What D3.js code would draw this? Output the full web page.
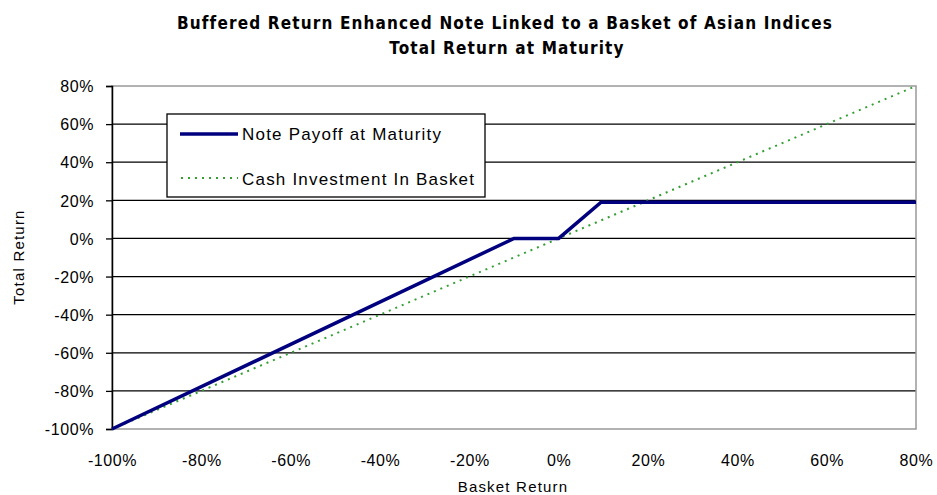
<!DOCTYPE html>
<html lang="en">
<head>
<meta charset="UTF-8">
<title>Buffered Return Enhanced Note</title>
<script src="https://cdn.jsdelivr.net/npm/d3@7"></script>
<style>
    body { margin: 0; background: #fff; }
    text { font-family: Arial, "Liberation Sans", sans-serif; }
</style>
</head>
<body>
<svg id="chart" width="937" height="495"></svg>
<script>
// basket return (x) and total return (y), in percent
let noteX = [-100, -10, 0, 9.5, 80];
let noteY = [-100, 0, 0, 19, 19];
let cashX = [-100, 80];
let cashY = [-100, 80];
let xTicks = [-100, -80, -60, -40, -20, 0, 20, 40, 60, 80];
let yTicks = [-100, -80, -60, -40, -20, 0, 20, 40, 60, 80];
let seriesNames = ["Note Payoff at Maturity", "Cash Investment In Basket"];

let svg = d3.select("#chart");
let plotL = 112, plotR = 916, plotT = 86, plotB = 429;

let x = d3.scaleLinear().domain([-100, 80]).range([plotL, plotR]);
let y = d3.scaleLinear().domain([-100, 80]).range([plotB, plotT]);

// title
let titleFont = "'Liberation Sans Narrow', 'DejaVu Sans Condensed', Arial, sans-serif";
svg.append("text").attr("x", 505).attr("y", 29).attr("text-anchor", "middle")
    .style("font-size", "17px").style("font-weight", "bold").style("letter-spacing", "1.15px")
    .style("font-family", titleFont)
    .text("Buffered Return Enhanced Note Linked to a Basket of Asian Indices");
svg.append("text").attr("x", 507).attr("y", 54).attr("text-anchor", "middle")
    .style("font-size", "17px").style("font-weight", "bold").style("letter-spacing", "1.15px")
    .style("font-family", titleFont)
    .text("Total Return at Maturity");

// gridlines
svg.append("g").selectAll("line").data(yTicks.filter(d => d > -100 && d < 80)).join("line")
    .attr("x1", plotL).attr("x2", plotR)
    .attr("y1", d => y(d)).attr("y2", d => y(d))
    .attr("stroke", "#000").attr("stroke-width", 1.3);

// plot frame (grey)
svg.append("rect").attr("x", plotL).attr("y", plotT)
    .attr("width", plotR - plotL).attr("height", plotB - plotT)
    .attr("fill", "none").attr("stroke", "#999").attr("stroke-width", 1.5);

// y axis
let yAxis = svg.append("g").attr("transform", `translate(${plotL},0)`)
    .call(d3.axisLeft(y).tickValues(yTicks).tickFormat(d => d + "%").tickSizeOuter(0).tickSize(6));
yAxis.select(".domain").attr("stroke", "#000").attr("stroke-width", 1.5);
yAxis.selectAll(".tick line").attr("stroke", "#000").attr("stroke-width", 1.3);
yAxis.selectAll("text").style("font-size", "16px").style("letter-spacing", "0.6px")
    .attr("x", -18).attr("dy", "0.36em");

// x axis
let xAxis = svg.append("g").attr("transform", `translate(0,${plotB})`)
    .call(d3.axisBottom(x).tickValues(xTicks).tickFormat(d => d + "%").tickSize(0));
xAxis.select(".domain").remove();
xAxis.selectAll("text").style("font-size", "16px").style("letter-spacing", "0.6px").attr("y", 26);

// axis titles
svg.append("text").attr("transform", "translate(24,257) rotate(-90)")
    .attr("text-anchor", "middle").style("font-size", "15px").style("letter-spacing", "1.2px")
    .text("Total Return");
svg.append("text").attr("x", 513).attr("y", 492).attr("text-anchor", "middle")
    .style("font-size", "15px").style("letter-spacing", "1.2px").text("Basket Return");

let line = d3.line().x(d => x(d[0])).y(d => y(d[1]));

// cash investment (dotted green)
svg.append("path").datum(d3.zip(cashX, cashY)).attr("d", line)
    .attr("fill", "none").attr("stroke", "#33a033").attr("stroke-width", 2)
    .attr("stroke-dasharray", "2,5");

// note payoff (navy)
svg.append("path").datum(d3.zip(noteX, noteY)).attr("d", line)
    .attr("fill", "none").attr("stroke", "#00007f").attr("stroke-width", 3.5);

// legend
let lg = svg.append("g");
lg.append("rect").attr("x", 167).attr("y", 114).attr("width", 318).attr("height", 83)
    .attr("fill", "#fff").attr("stroke", "#000").attr("stroke-width", 1.3);
lg.append("line").attr("x1", 180).attr("x2", 238).attr("y1", 134).attr("y2", 134)
    .attr("stroke", "#00007f").attr("stroke-width", 3.5);
lg.append("line").attr("x1", 181).attr("x2", 238).attr("y1", 178).attr("y2", 178)
    .attr("stroke", "#33a033").attr("stroke-width", 2).attr("stroke-dasharray", "2,5");
lg.append("text").attr("x", 242).attr("y", 140).style("font-size", "17px").style("letter-spacing", "1.2px")
    .text(seriesNames[0]);
lg.append("text").attr("x", 242).attr("y", 185).style("font-size", "17px").style("letter-spacing", "1.2px")
    .text(seriesNames[1]);
</script>
</body>
</html>
